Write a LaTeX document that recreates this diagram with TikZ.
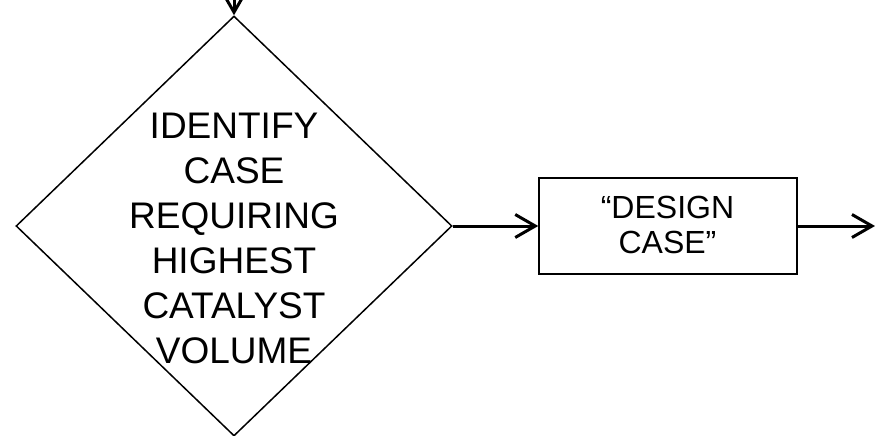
\documentclass[tikz,border=0pt]{standalone}
\usepackage{fontspec}
\setmainfont{Liberation Sans}
\usetikzlibrary{arrows.meta,shapes.geometric,positioning}

\begin{document}
\begin{tikzpicture}[x=0.5pt, y=0.5pt,
    flow/.style = {line width=1.5pt, -{Straight Barb[length=10pt, width=11.5pt, line width=1.5pt]}},
    decision/.style = {draw, diamond, line width=0.75pt, inner sep=0pt, minimum width=218pt, minimum height=210pt},
    process/.style = {draw, rectangle, line width=0.75pt, minimum width=129pt, minimum height=48pt},
    label/.style = {align=center, inner sep=0pt}]
    \useasboundingbox (0,0) rectangle (875,435);

    % shapes
    \node[decision] (ident) at (234,209) {};
    \node[label, font=\fontsize{18.5}{22.5}\selectfont] (identtext) at (234,197) {IDENTIFY\\CASE\\REQUIRING\\HIGHEST\\CATALYST\\VOLUME};
    \node[process] (design) at (668,209) {};
    \node[label, font=\fontsize{16}{17.5}\selectfont] (designtext) at (667.5,210.5) {``DESIGN\\CASE''};

    % connectors
    \coordinate (in) at (234,460);
    \coordinate (out) at (875,209);
    \draw[flow] (in) -- (ident.north);
    \draw[flow] (ident.east) -- (design.west);
    \draw[flow] (design.east) -- (out);

\end{tikzpicture}
\end{document}
